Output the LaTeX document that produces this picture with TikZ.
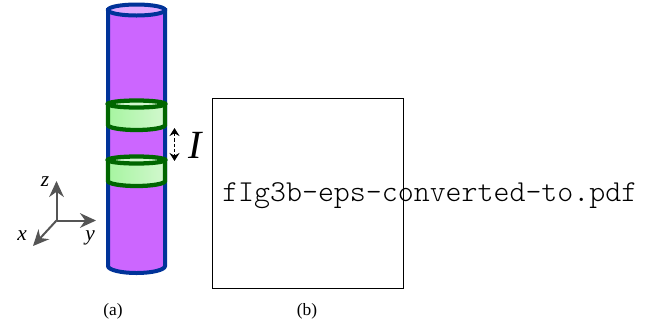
\documentclass[tikz,border=0pt]{standalone}
\usepackage{fontspec}
\setmainfont{Liberation Serif}
\newfontfamily\lightmono{Latin Modern Mono Light}
\usetikzlibrary{arrows.meta,shadings}
\definecolor{tube}{HTML}{CC66FF}
\definecolor{tubetop}{HTML}{E0AAFF}
\definecolor{tubeline}{HTML}{003399}
\definecolor{ringline}{HTML}{006600}
\definecolor{axisgray}{HTML}{555555}
\definecolor{ringa}{HTML}{A6F5A0}
\definecolor{ringb}{HTML}{D2F7CE}
\tikzset{
  tubeedge/.style={draw=tubeline,line width=3pt,fill=tube},
  tubecap/.style={draw=tubeline,line width=3pt,fill=tubetop},
  ringbody/.style={draw=ringline,line width=3.2pt,left color=ringa,right color=ringb},
  ringtop/.style={draw=ringline,line width=3.2pt,fill=ringb},
  axisline/.style={draw=axisgray,line width=1.5pt,-{Stealth[length=12pt,width=11pt]}},
  axislabel/.style={inner sep=0pt,font=\fontsize{16}{16}\selectfont\itshape},
  caption/.style={inner sep=0pt,font=\fontsize{13}{14}\selectfont},
  gap/.style={draw=black,line width=1pt,dash pattern=on 2.5pt off 1.5pt,{Stealth[length=6pt,width=7.5pt]}-{Stealth[length=6pt,width=7.5pt]}}
}
\begin{document}
\begin{tikzpicture}[x=0.75pt,y=-0.75pt]
\useasboundingbox (0,0) rectangle (652,329);
% tube
\path[tubeedge] (108,10) -- (108,266) arc[start angle=180,end angle=0,x radius=28.5,y radius=7] -- (165,10) -- cycle;
\draw[tubecap] (136.5,10) ellipse[x radius=28.5,y radius=5.5];
% rings
\path[ringbody] (108,104) -- (108,125) arc[start angle=180,end angle=0,x radius=28.5,y radius=5] -- (165,104) -- cycle;
\draw[ringtop] (136.5,104) ellipse[x radius=28.5,y radius=3.5];
\path[ringbody] (108,160) -- (108,181) arc[start angle=180,end angle=0,x radius=28.5,y radius=5] -- (165,160) -- cycle;
\draw[ringtop] (136.5,160) ellipse[x radius=28.5,y radius=3.5];
% spacing
\coordinate (gaptop) at (174.5,128);
\coordinate (gapbot) at (174.5,161);
\draw[gap] (gaptop) -- (gapbot);
\node[inner sep=0pt,font=\fontsize{30}{30}\selectfont\itshape] (ilabel) at (195,145) {I};
% axes
\coordinate (origin) at (56.5,220.5);
\coordinate (zend) at (56.5,181);
\coordinate (yend) at (96,220.5);
\coordinate (xend) at (33,246);
\draw[axisline] (origin) -- (zend);
\draw[axisline] (origin) -- (yend);
\draw[axisline] (origin) -- (xend);
\node[axislabel] (zlabel) at (45,182) {z};
\node[axislabel] (ylabel) at (90,238) {y};
\node[axislabel] (xlabel) at (22,236) {x};
% frame b
\node[draw=black,line width=0.6pt,minimum width=143.2pt,minimum height=143.2pt,inner sep=0pt,anchor=north west] (frame) at (212,97.5) {};
\node[inner sep=0pt,font=\fontsize{22.8}{24}\lightmono,anchor=base west] (file) at (222,201) {fIg3b-eps-converted-to.pdf};
\node[caption] (capa) at (113,311) {(a)};
\node[caption] (capb) at (307,311) {(b)};
\end{tikzpicture}
\end{document}
